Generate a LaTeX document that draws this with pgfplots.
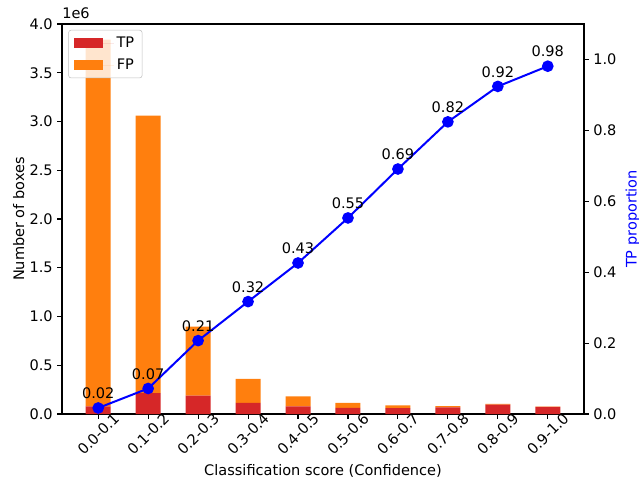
\documentclass[border=0pt]{standalone}
\usepackage{pgfplots}
\pgfplotsset{compat=1.18}
\usepackage{fontspec}
\setmainfont{DejaVu Sans}
\definecolor{tpred}{HTML}{D62728}
\definecolor{fporange}{HTML}{FF7F0E}
\begin{document}
\begin{tikzpicture}[font=\fontsize{10.9}{13}\selectfont]
\useasboundingbox (-46.5pt,-54.75pt) rectangle (432.75pt,310.5pt);
\pgfplotsset{every axis/.append style={
  width=391.5pt,height=292.5pt,scale only axis,
  at={(0,0)},anchor=south west,
  xmin=-0.725,xmax=9.725,
  /pgf/number format/assume math mode=true,
  tick align=outside, major tick length=3.5pt,
  axis line style={line width=0.8pt},
  every tick/.style={black,line width=0.8pt},
  clip=false}}
\begin{axis}[
  ybar stacked, bar width=0.5,
  ymin=0,ymax=4,
  ytick={0,0.5,1,1.5,2,2.5,3,3.5,4},
  yticklabel style={/pgf/number format/.cd,fixed,fixed zerofill,precision=1},
  ytick pos=left, xtick pos=bottom,
  ylabel={Number of boxes},
  ylabel style={yshift=-3pt},
  xlabel={Classification score (Confidence)},
  xlabel style={yshift=2pt},
  xtick={0,...,9},
  xticklabels={0.0-0.1,0.1-0.2,0.2-0.3,0.3-0.4,0.4-0.5,0.5-0.6,0.6-0.7,0.7-0.8,0.8-0.9,0.9-1.0},
  xticklabel style={yshift=-11.5pt,rotate=45,anchor=center},
  legend style={at={(0.012,0.985)},anchor=north west,draw=lightgray,
    rounded corners=2pt,fill=white,fill opacity=0.8,draw opacity=1,text opacity=1,
    row sep=3pt,inner xsep=4pt,inner ysep=3pt},
  legend image code/.code={\fill[#1,draw=none,fill opacity=1,sharp corners] (0pt,-3.7pt) rectangle (22pt,3.7pt); \path (0pt,0pt) -- (30pt,0pt);},
]
\addplot[fill=tpred,draw=none] coordinates {(0,0.077) (1,0.214) (2,0.188) (3,0.115) (4,0.077) (5,0.062) (6,0.061) (7,0.067) (8,0.095) (9,0.073)};
\addlegendentry{TP}
\addplot[fill=fporange,draw=none] coordinates {(0,3.763) (1,2.846) (2,0.707) (3,0.245) (4,0.103) (5,0.051) (6,0.028) (7,0.015) (8,0.008) (9,0.002)};
\addlegendentry{FP}
\node[anchor=south west,inner sep=0pt] at (rel axis cs:0,1) [yshift=4pt] {1e6};
\end{axis}
\begin{axis}[
  hide x axis,
  axis y line*=right,
  ymin=0,ymax=1.1,
  ytick={0,0.2,0.4,0.6,0.8,1.0},
  yticklabel style={/pgf/number format/.cd,fixed,fixed zerofill,precision=1},
  ylabel={TP proportion},
  ylabel style={text=blue},
]
\addplot[blue,line width=1.5pt,mark=*,mark size=3.6pt,
  nodes near coords={\pgfmathprintnumber[fixed,fixed zerofill,precision=2]{\pgfplotspointmeta}},
  nodes near coords style={black,anchor=south,inner sep=0pt,yshift=6pt}]
  coordinates {(0,0.017) (1,0.072) (2,0.207) (3,0.317) (4,0.426) (5,0.553) (6,0.691) (7,0.824) (8,0.924) (9,0.981)};
\end{axis}
\end{tikzpicture}
\end{document}
